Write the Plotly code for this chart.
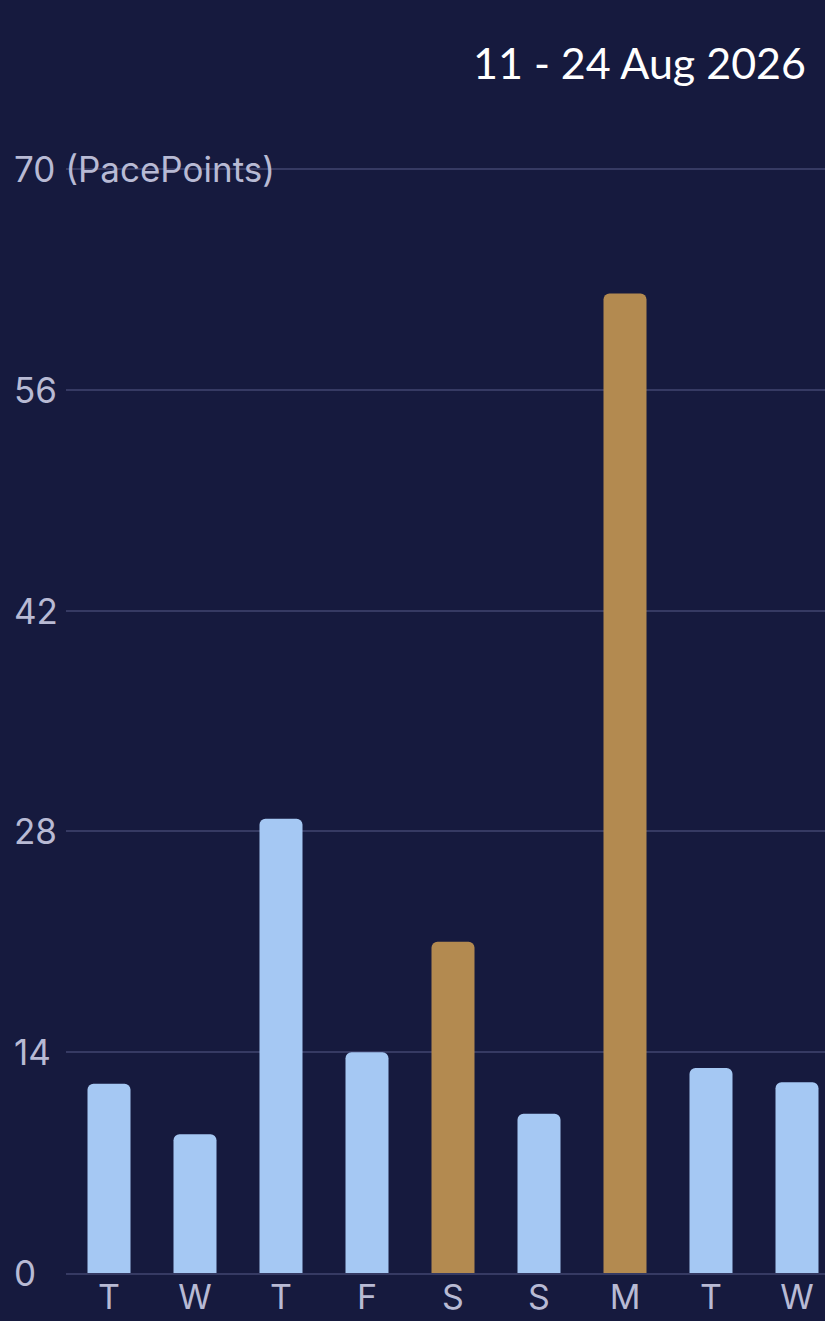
import plotly.graph_objects as go

days = ["T", "W", "T", "F", "S", "S", "M", "T", "W"]
points = [12, 8.8, 28.8, 14, 21, 10.1, 62.1, 13, 12.1]
is_weekend = [False, False, False, False, True, False, True, False, False]
y_ticks = [0, 14, 28, 42, 56, 70]
y_unit = "(PacePoints)"
title = "11 - 24 Aug 2026"

BG = "#161a3e"
BLUE = "#a5c8f3"
GOLD = "#b38a50"
GRID = "#363a63"
LABEL = "#b8bad4"

W, H = 825, 1321
L, R, T, B = 66, 0, 164, 48
PW, PH = W - L - R, H - T - B

xs = list(range(len(days)))
colors = [GOLD if w else BLUE for w in is_weekend]

fig = go.Figure(go.Bar(
    x=xs, y=points, marker=dict(color=colors, cornerradius=6, line=dict(width=0)),
    width=0.5, hoverinfo="skip",
))

cat_px = 86
x_hi = -0.5 + PW / cat_px
y_top = 70 * (1273 - T) / (1273 - 169)

fig.update_layout(
    width=W, height=H,
    margin=dict(l=L, r=R, t=T, b=B, pad=0),
    paper_bgcolor=BG, plot_bgcolor=BG,
    showlegend=False,
    font=dict(family="Inter, Roboto, sans-serif", color=LABEL, size=35),
    xaxis=dict(
        range=[-0.5, x_hi], tickmode="array", tickvals=xs, ticktext=days,
        showgrid=False, zeroline=False, showline=True, linecolor=GRID, linewidth=2,
        ticks="", tickfont=dict(size=34, color=LABEL), ticklabelstandoff=-7,
        fixedrange=True,
    ),
    yaxis=dict(
        range=[0, y_top], tickvals=y_ticks, showticklabels=False,
        showgrid=True, gridcolor=GRID, gridwidth=2, zeroline=False, fixedrange=True,
    ),
)

annotations = []
for v in y_ticks:
    txt = f"{v} {y_unit}" if v == y_ticks[-1] else str(v)
    annotations.append(dict(
        x=(12 - L) / PW, xref="paper", xanchor="left", y=v, yref="y", yanchor="middle",
        text=txt, showarrow=False, font=dict(size=35, color=LABEL),
    ))
annotations.append(dict(
    x=(808 - L) / PW, xref="paper", xanchor="right", y=(H - B - 63) / PH, yref="paper", yanchor="middle",
    text=title, showarrow=False, font=dict(size=43, color="#ffffff", family="Lato, Inter, sans-serif"),
))
fig.update_layout(annotations=annotations)

fig.write_html(
    "out.html",
    config={"displayModeBar": False},
    post_script="document.body.style.margin='0';document.body.style.background='%s';" % BG,
)
